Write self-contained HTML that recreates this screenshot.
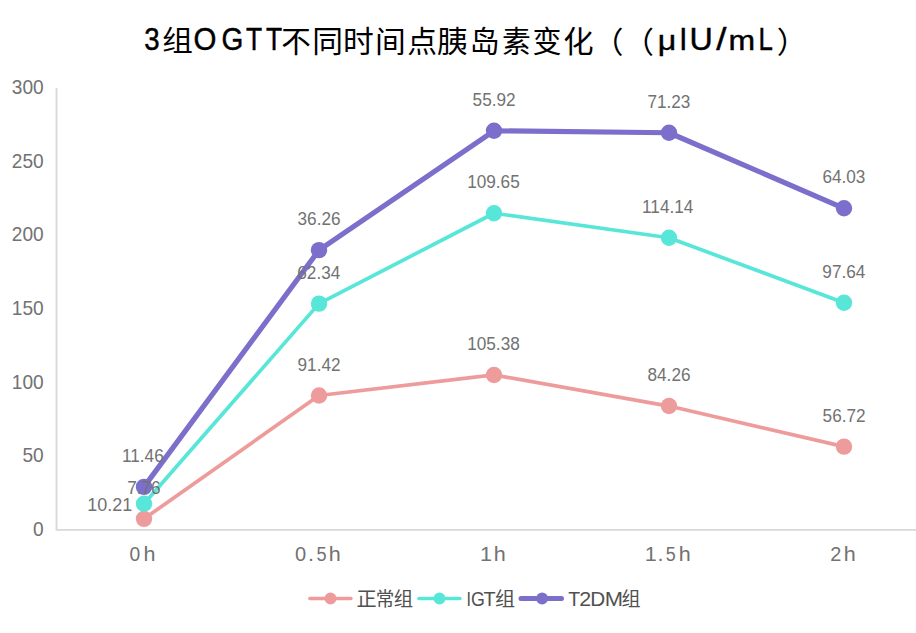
<!DOCTYPE html>
<html lang="zh"><head><meta charset="utf-8"><title>3组OGTT不同时间点胰岛素变化</title>
<style>html,body{margin:0;padding:0;background:#fff}body{width:916px;height:633px;overflow:hidden}svg{display:block}text{font-family:"Liberation Sans","Noto Sans CJK SC",sans-serif}</style></head><body>
<svg width="916" height="633" viewBox="0 0 916 633">
<rect width="916" height="633" fill="#fff"/>
<g id="title">
<text fill="#000000" font-size="28.8" transform="translate(162.21 51.10) scale(1.0639 1)">组</text>
<text fill="#000000" font-size="30" transform="translate(281.30 52.00) scale(0.9863 1)">不</text>
<text fill="#000000" font-size="30" transform="translate(312.19 52.00) scale(1.0250 1)">同</text>
<text fill="#000000" font-size="30" transform="translate(343.01 52.00) scale(1.0253 1)">时</text>
<text fill="#000000" font-size="30" transform="translate(375.00 52.00) scale(1.0260 1)">间</text>
<text fill="#000000" font-size="30" transform="translate(407.15 52.00) scale(0.9937 1)">点</text>
<text fill="#000000" font-size="30" transform="translate(437.04 52.00) scale(1.0270 1)">胰</text>
<text fill="#000000" font-size="30" transform="translate(469.45 52.00) scale(1.0067 1)">岛</text>
<text fill="#000000" font-size="30" transform="translate(501.88 52.00) scale(0.9587 1)">素</text>
<text fill="#000000" font-size="30" transform="translate(532.39 52.00) scale(0.9660 1)">变</text>
<text fill="#000000" font-size="30" transform="translate(563.13 52.00) scale(1.0110 1)">化</text>
<text fill="#000000" font-size="30" transform="translate(592.90 53.10) scale(1.0167 1)">（</text>
<text fill="#000000" font-size="30" transform="translate(623.50 53.10) scale(1.0167 1)">（</text>
<text fill="#000000" font-size="30" transform="translate(776.80 53.10) scale(1.0167 1)">）</text>
<text fill="#000000" stroke="#000000" stroke-width="0.45" font-size="30.5" transform="translate(144.15 50.20) scale(0.9059 1)">3</text>
<text fill="#000000" stroke="#000000" stroke-width="0.45" font-size="30.5" transform="translate(193.61 50.20) scale(0.9654 1)">O</text>
<text fill="#000000" stroke="#000000" stroke-width="0.45" font-size="30.5" transform="translate(221.59 50.20) scale(0.9191 1)">G</text>
<text fill="#000000" stroke="#000000" stroke-width="0.45" font-size="30.5" transform="translate(245.91 50.20) scale(0.8640 1)">T</text>
<text fill="#000000" stroke="#000000" stroke-width="0.45" font-size="30.5" transform="translate(266.01 50.20) scale(0.8640 1)">T</text>
<text fill="#000000" stroke="#000000" stroke-width="0.45" font-size="30.5" transform="translate(657.83 50.20) scale(1.0539 0.91)">μ</text>
<text fill="#000000" stroke="#000000" stroke-width="0.45" font-size="30.5" transform="translate(679.13 50.20) scale(0.9492 1)">I</text>
<text fill="#000000" stroke="#000000" stroke-width="0.45" font-size="30.5" transform="translate(689.61 50.20) scale(1.0566 1)">U</text>
<text fill="#000000" stroke="#000000" stroke-width="0.45" font-size="30.5" transform="translate(716.20 50.20) scale(1.2 1)">/</text>
<text fill="#000000" stroke="#000000" stroke-width="0.45" font-size="30.5" transform="translate(728.38 50.20) scale(1.0482 0.89)">m</text>
<text fill="#000000" stroke="#000000" stroke-width="0.45" font-size="30.5" transform="translate(758.58 50.20) scale(0.8477 1)">L</text>
</g>
<g id="axes" stroke="#D9D9D9" stroke-width="1.9" fill="none" stroke-linejoin="round">
<path d="M56.5 88 V529.9 H917"/>
</g>
<g id="ylabels">
<g transform="translate(33.12 536.15) scale(0.9650 1)"><text x="0.00" fill="#727272" font-size="19.8">0</text></g>
<g transform="translate(22.49 462.43) scale(0.9650 1)"><text x="0.00" fill="#727272" font-size="19.8">50</text></g>
<g transform="translate(11.87 388.71) scale(0.9650 1)"><text x="0.00" fill="#727272" font-size="19.8">100</text></g>
<g transform="translate(11.87 314.99) scale(0.9650 1)"><text x="0.00" fill="#727272" font-size="19.8">150</text></g>
<g transform="translate(11.87 241.27) scale(0.9650 1)"><text x="0.00" fill="#727272" font-size="19.8">200</text></g>
<g transform="translate(11.87 167.55) scale(0.9650 1)"><text x="0.00" fill="#727272" font-size="19.8">250</text></g>
<g transform="translate(11.87 93.83) scale(0.9650 1)"><text x="0.00" fill="#727272" font-size="19.8">300</text></g>
</g>
<g id="xlabels">
<text fill="#727272" font-size="19.6" transform="translate(129.55 560.80) scale(0.9819 1)">0</text>
<text fill="#727272" font-size="19.6" transform="translate(143.46 560.80) scale(1.1000 1.06)">h</text>
<text fill="#727272" font-size="19.6" transform="translate(294.92 560.80) scale(1.0246 1)">0</text>
<text fill="#727272" font-size="19.6" transform="translate(308.00 560.80) scale(1.1000 1)">.</text>
<text fill="#727272" font-size="19.6" transform="translate(316.57 560.80) scale(0.9255 1)">5</text>
<text fill="#727272" font-size="19.6" transform="translate(328.66 560.80) scale(1.1000 1.06)">h</text>
<g transform="translate(479.89 560.80) scale(1.1000 1)"><text x="0.00" fill="#727272" font-size="19.6">1</text></g>
<text fill="#727272" font-size="19.6" transform="translate(493.71 560.80) scale(1.1000 1.06)">h</text>
<g transform="translate(644.84 560.80) scale(1.1000 1)"><text x="0.00" fill="#727272" font-size="19.6">1</text></g>
<text fill="#727272" font-size="19.6" transform="translate(657.50 560.80) scale(1.1000 1)">.</text>
<text fill="#727272" font-size="19.6" transform="translate(665.78 560.80) scale(0.9147 1)">5</text>
<text fill="#727272" font-size="19.6" transform="translate(678.66 560.80) scale(1.1000 1.06)">h</text>
<text fill="#727272" font-size="19.6" transform="translate(830.30 560.80) scale(1.0191 1)">2</text>
<text fill="#727272" font-size="19.6" transform="translate(843.71 560.80) scale(1.1000 1.06)">h</text>
</g>
<g id="series">
<polyline points="144,518.86 319,395.51 494,374.93 669,406.07 844,446.67" fill="none" stroke="#EE9B9B" stroke-width="3.7" stroke-linejoin="round" stroke-linecap="round"/>
<circle cx="144" cy="518.86" r="8.2" fill="#EE9B9B"/>
<circle cx="319" cy="395.51" r="8.2" fill="#EE9B9B"/>
<circle cx="494" cy="374.93" r="8.2" fill="#EE9B9B"/>
<circle cx="669" cy="406.07" r="8.2" fill="#EE9B9B"/>
<circle cx="844" cy="446.67" r="8.2" fill="#EE9B9B"/>
<polyline points="144,503.81 319,303.6 494,213.26 669,237.78 844,302.71" fill="none" stroke="#58E6D9" stroke-width="3.7" stroke-linejoin="round" stroke-linecap="round"/>
<circle cx="144" cy="503.81" r="8.2" fill="#58E6D9"/>
<circle cx="319" cy="303.6" r="8.2" fill="#58E6D9"/>
<circle cx="494" cy="213.26" r="8.2" fill="#58E6D9"/>
<circle cx="669" cy="237.78" r="8.2" fill="#58E6D9"/>
<circle cx="844" cy="302.71" r="8.2" fill="#58E6D9"/>
<polyline points="144,486.91 319,250.13 494,130.81 669,132.76 844,208.31" fill="none" stroke="#7B6FCB" stroke-width="5.2" stroke-linejoin="round" stroke-linecap="round"/>
<circle cx="144" cy="486.91" r="8.2" fill="#7B6FCB"/>
<circle cx="319" cy="250.13" r="8.2" fill="#7B6FCB"/>
<circle cx="494" cy="130.81" r="8.2" fill="#7B6FCB"/>
<circle cx="669" cy="132.76" r="8.2" fill="#7B6FCB"/>
<circle cx="844" cy="208.31" r="8.2" fill="#7B6FCB"/>
</g>
<g id="dlabels">
<g transform="translate(127.22 493.86) scale(0.9650 1)"><text x="0.00" fill="#727272" font-size="17.8">7.76</text></g>
<g transform="translate(297.54 370.51) scale(0.9650 1)"><text x="0.00" fill="#727272" font-size="17.8">91.42</text></g>
<g transform="translate(467.21 349.93) scale(0.9650 1)"><text x="0.00" fill="#727272" font-size="17.8">105.38</text></g>
<g transform="translate(647.51 381.07) scale(0.9650 1)"><text x="0.00" fill="#727272" font-size="17.8">84.26</text></g>
<g transform="translate(822.60 421.67) scale(0.9650 1)"><text x="0.00" fill="#727272" font-size="17.8">56.72</text></g>
<g transform="translate(87.33 511.30) scale(1.0110 1)"><text x="0.00" fill="#727272" font-size="17.8">10.21</text></g>
<g transform="translate(297.32 278.60) scale(0.9650 1)"><text x="0.00" fill="#727272" font-size="17.8">62.34</text></g>
<g transform="translate(467.20 188.26) scale(0.9650 1)"><text x="0.00" fill="#727272" font-size="17.8">109.65</text></g>
<g transform="translate(642.09 212.78) scale(0.9650 1)"><text x="0.00" fill="#727272" font-size="17.8">114.14</text></g>
<g transform="translate(822.36 277.71) scale(0.9650 1)"><text x="0.00" fill="#727272" font-size="17.8">97.64</text></g>
<g transform="translate(121.99 461.91) scale(0.9650 1)"><text x="0.00" fill="#727272" font-size="17.8">11.46</text></g>
<g transform="translate(297.56 225.13) scale(0.9650 1)"><text x="0.00" fill="#727272" font-size="17.8">36.26</text></g>
<g transform="translate(472.60 105.81) scale(0.9650 1)"><text x="0.00" fill="#727272" font-size="17.8">55.92</text></g>
<g transform="translate(647.44 107.76) scale(0.9650 1)"><text x="0.00" fill="#727272" font-size="17.8">71.23</text></g>
<g transform="translate(822.45 183.31) scale(0.9650 1)"><text x="0.00" fill="#727272" font-size="17.8">64.03</text></g>
</g>
<g id="legend">
<path d="M309.9 598.5 H350.9" stroke="#EE9B9B" stroke-width="3.6" stroke-linecap="round" fill="none"/>
<circle cx="330.5" cy="598.5" r="5.9" fill="#EE9B9B"/>
<path d="M419 598.5 H459.9" stroke="#58E6D9" stroke-width="3.6" stroke-linecap="round" fill="none"/>
<circle cx="439.5" cy="598.5" r="5.9" fill="#58E6D9"/>
<path d="M521 598.5 H561.5" stroke="#7B6FCB" stroke-width="5.0" stroke-linecap="round" fill="none"/>
<circle cx="542.1" cy="598.5" r="5.9" fill="#7B6FCB"/>
<text fill="#505050" font-size="19.2" transform="translate(356.55 605.60) scale(1.0500 1)">正</text>
<text fill="#505050" font-size="19.2" transform="translate(375.70 605.60) scale(0.9667 1)">常</text>
<text fill="#505050" font-size="19.2" transform="translate(393.78 605.60) scale(1.0109 1)">组</text>
<text fill="#505050" font-size="19.2" transform="translate(494.96 605.60) scale(1.0453 1)">组</text>
<text fill="#505050" font-size="19.2" transform="translate(621.40 605.60) scale(0.9938 1)">组</text>
<text fill="#505050" font-size="19.3" transform="translate(466.42 605.50) scale(0.8334 1)">I</text>
<text fill="#505050" font-size="19.3" transform="translate(470.91 605.50) scale(0.9207 1)">G</text>
<text fill="#505050" font-size="19.3" transform="translate(483.56 605.50) scale(1.0263 1)">T</text>
<text fill="#505050" font-size="19.3" transform="translate(568.16 605.50) scale(1.0080 1)">T</text>
<text fill="#505050" font-size="19.3" transform="translate(579.32 605.50) scale(1.1146 1)">2</text>
<text fill="#505050" font-size="19.3" transform="translate(590.20 605.50) scale(1.0760 1)">D</text>
<text fill="#505050" font-size="19.3" transform="translate(604.80 605.50) scale(1.1386 1)">M</text>
</g>
</svg></body></html>
